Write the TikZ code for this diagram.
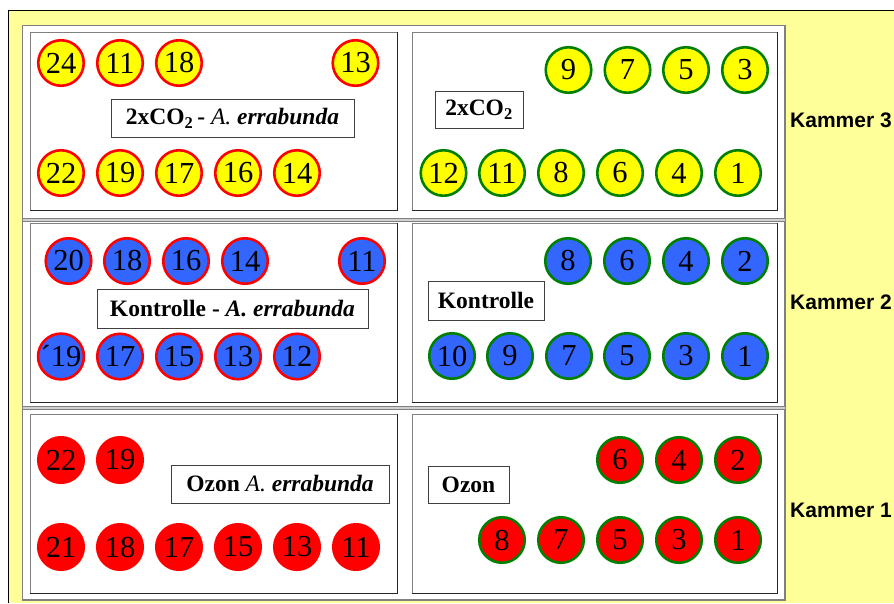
\documentclass[tikz,border=0pt]{standalone}
\usepackage{fontspec}
\setmainfont{Liberation Serif}
\newfontfamily\kfont{Liberation Sans}
\definecolor{bgyellow}{HTML}{FFFF99}
\definecolor{potyellow}{HTML}{FFFF00}
\definecolor{potblue}{HTML}{3366FF}
\definecolor{potred}{HTML}{FF0000}
\definecolor{rimgreen}{HTML}{008000}
\definecolor{rimred}{HTML}{FF0000}
\definecolor{framegray}{HTML}{808080}
\definecolor{sepgray}{HTML}{D0D0D0}
\begin{document}
\begin{tikzpicture}[x=1pt,y=-1pt,
  pot/.style={circle,minimum size=45.5pt,inner sep=0pt,line width=2.6pt,
    font=\fontsize{30.5}{30}\selectfont},
  yr/.style={pot,fill=potyellow,draw=rimred},
  yg/.style={pot,fill=potyellow,draw=rimgreen},
  br/.style={pot,fill=potblue,draw=rimred},
  bg/.style={pot,fill=potblue,draw=rimgreen},
  rr/.style={pot,fill=potred,draw=rimred},
  rg/.style={pot,fill=potred,draw=rimgreen},
  tag/.style={draw=black!75,line width=0.9pt,fill=white,inner sep=0pt,
    font=\fontsize{23.5}{26}\selectfont\bfseries},
  chamber/.style={anchor=west,inner sep=0pt,font=\kfont\fontsize{21}{22}\selectfont\bfseries},
  cell/.style={draw=framegray,line width=0.9pt,fill=white}]
\useasboundingbox (0,0) rectangle (894,603);

% yellow backdrop with black top and left border
\fill[bgyellow] (8,10) rectangle (894,603);
\draw[black,line width=0.9pt] (8,603) -- (8,10) -- (894,10);

% white panel holding the three chambers
\draw[framegray,fill=white,line width=1.6pt] (22.5,25.5) rectangle (785,600);

% separators between the chambers
\foreach \y in {218,406}{
  \fill[sepgray] (22.5,\y) rectangle (785,\y+3.5);
  \draw[framegray,line width=0.7pt] (22.5,\y) -- (785,\y);
  \draw[framegray,line width=0.7pt] (22.5,\y+3.5) -- (785,\y+3.5);
}

% cells: grey top/left edge, dark bottom/right edge
\foreach \xa/\xb in {30/397,412/777}{
  \foreach \ya/\yb in {32/210,223/402,414/593}{
    \draw[cell] (\xa,\ya) rectangle (\xb,\yb);
    \draw[black!85,line width=0.9pt] (\xa,\yb) -- (\xb,\yb) -- (\xb,\ya);
  }
}

% Kammer 3: 2xCO2
\foreach \n/\x [count=\i] in {24/61,11/120,18/179,13/355.5}
  \node[yr] (k3a-\i) at (\x,63) {\n};
\foreach \n/\x [count=\i] in {22/61,19/120,17/179,16/238,14/297}
  \node[yr] (k3b-\i) at (\x,173) {\n};
\foreach \n/\x [count=\i] in {9/568.5,7/627.5,5/686,3/745}
  \node[yg] (k3c-\i) at (\x,70) {\n};
\foreach \n/\x [count=\i] in {12/443.5,11/502,8/561,6/620,4/679,1/738}
  \node[yg] (k3d-\i) at (\x,173) {\n};
\node[tag,minimum width=243pt,minimum height=38pt] (t3a) at (232.5,118)
  {2xCO\textsubscript{2}\,- \textmd{\itshape A.} \textit{errabunda}};
\node[tag,minimum width=88pt,minimum height=37pt] (t3b) at (479,109.5)
  {2xCO\textsubscript{2}};

% Kammer 2: Kontrolle
\foreach \n/\x [count=\i] in {20/68.5,18/127,16/186,14/245,11/362}
  \node[br] (k2a-\i) at (\x,261) {\n};
\foreach \n/\x [count=\i] in {´19/61,17/120,15/179,13/238,12/297}
  \node[br] (k2b-\i) at (\x,356.5) {\n};
\foreach \n/\x [count=\i] in {8/568,6/627,4/686,2/745}
  \node[bg] (k2c-\i) at (\x,261) {\n};
\foreach \n/\x [count=\i] in {10/452,9/510,7/569,5/627,3/686,1/745}
  \node[bg] (k2d-\i) at (\x,356) {\n};
\node[tag,minimum width=271pt,minimum height=39pt] (t2a) at (232.5,308.5)
  {Kontrolle - \textit{A. errabunda}};
\node[tag,minimum width=116pt,minimum height=39pt] (t2b) at (486,300.5)
  {Kontrolle};

% Kammer 1: Ozon
\foreach \n/\x [count=\i] in {22/61,19/120}
  \node[rr] (k1a-\i) at (\x,460) {\n};
\foreach \n/\x [count=\i] in {21/61,18/120,17/179,15/238,13/297,11/356}
  \node[rr] (k1b-\i) at (\x,547) {\n};
\foreach \n/\x [count=\i] in {6/620,4/679,2/738}
  \node[rg] (k1c-\i) at (\x,460) {\n};
\foreach \n/\x [count=\i] in {8/502,7/561,5/620,3/679,1/738}
  \node[rg] (k1d-\i) at (\x,540) {\n};
\node[tag,minimum width=218pt,minimum height=38pt] (t1a) at (280,484)
  {Ozon \textmd{\itshape A.} \textit{errabunda}};
\node[tag,minimum width=81pt,minimum height=37pt] (t1b) at (468.5,484.5)
  {Ozon};

% chamber names
\node[chamber] (kam3) at (790,120) {Kammer 3};
\node[chamber] (kam2) at (790,302) {Kammer 2};
\node[chamber] (kam1) at (790,510) {Kammer 1};
\end{tikzpicture}
\end{document}
